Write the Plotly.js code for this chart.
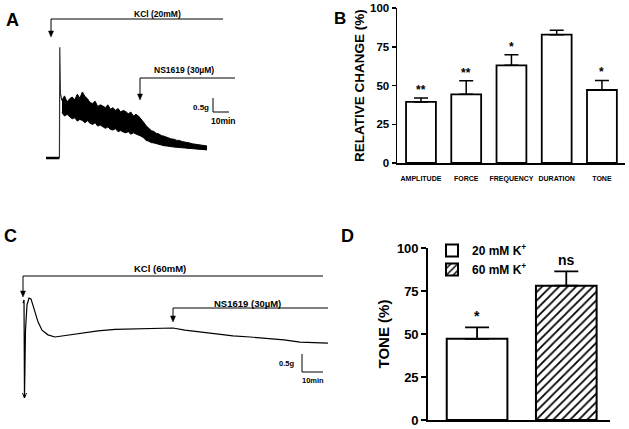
<!DOCTYPE html>
<html>
<head>
<meta charset="utf-8">
<script src="https://cdn.plot.ly/plotly-3.0.1.min.js"></script>
<style>html,body{margin:0;padding:0;background:#fff;}#chart{width:629px;height:429px;}</style>
</head>
<body>
<div id="chart"></div>
<script>
// ---------- DATA ----------
// Panel A: KCl 20 mM tension trace (time in min, tension in g)
const aBaseTime   = [0, 7.9];
const aBaseForce  = [0, 0];
const aSpikeTime  = [7.9, 8.1, 8.5, 9.4];
const aSpikeForce = [0, 3.96, 2.3, 2.05];
const aBandTime = [9.4, 10.9, 12.4, 13.9, 15.4, 16.9, 18.4, 19.9, 21.4, 22.9, 24.4, 25.9, 27.4, 28.9, 30.4, 31.9, 33.4, 34.9, 36.4, 37.9, 39.4, 40.9, 42.4, 43.9, 45.4, 46.9, 48.4, 49.9, 51.4, 52.9, 54.4, 55.9, 57.4, 58.9, 60.4, 61.9, 63.4, 64.9, 66.4, 67.9, 69.4, 70.9, 72.4, 73.9, 75.4, 76.9, 78.4, 79.9, 81.4, 82.9, 84.4, 85.9, 87.4, 88.9, 90.4, 91.9, 93.4, 94.7];
const aBandHigh = [2.07, 2.22, 2.0, 2.12, 2.18, 2.08, 2.28, 2.14, 2.36, 2.2, 2.12, 1.98, 1.95, 2.03, 1.84, 1.9, 1.86, 1.8, 1.9, 1.74, 1.8, 1.7, 1.77, 1.64, 1.7, 1.66, 1.58, 1.64, 1.5, 1.56, 1.5, 1.4, 1.28, 1.15, 1.08, 0.98, 0.95, 0.88, 0.86, 0.8, 0.78, 0.73, 0.71, 0.68, 0.67, 0.63, 0.63, 0.59, 0.58, 0.55, 0.54, 0.51, 0.5, 0.48, 0.47, 0.45, 0.44, 0.43];
const aBandLow  = [1.62, 1.5, 1.56, 1.46, 1.4, 1.44, 1.32, 1.38, 1.34, 1.26, 1.33, 1.24, 1.2, 1.26, 1.14, 1.18, 1.12, 1.06, 1.11, 1.02, 1.0, 1.05, 0.94, 0.98, 0.93, 0.9, 0.94, 0.85, 0.9, 0.86, 0.84, 0.78, 0.72, 0.63, 0.6, 0.55, 0.54, 0.51, 0.48, 0.47, 0.44, 0.43, 0.41, 0.41, 0.39, 0.38, 0.38, 0.36, 0.36, 0.35, 0.34, 0.34, 0.33, 0.32, 0.31, 0.31, 0.3, 0.29];

// Panel B: relative change (%)
const bCategories = ["AMPLITUDE", "FORCE", "FREQUENCY", "DURATION", "TONE"];
const bValues     = [39.4, 44.3, 63.0, 82.8, 47.1];
const bErrors     = [2.5, 8.8, 6.9, 2.8, 6.2];
const bSignif     = ["**", "**", "*", "", "*"];

// Panel C: KCl 60 mM tension trace (time in min, tension in g)
const cTime  = [0, 0.48, 0.71, 1.19, 1.9, 2.86, 3.81, 4.76, 5.71, 7.14, 9.05, 11.9, 15.2, 18.6, 22.4, 28.1, 35.7, 43.8, 51.9, 59.5, 67.6, 71.4, 77.1, 84.3, 92.4, 100.0, 108.1, 116.2, 124.3, 131.9, 145.2];
const cForce = [2.69, 2.78, 0.06, 1.94, 2.64, 2.83, 2.81, 2.64, 2.44, 2.17, 1.94, 1.81, 1.75, 1.78, 1.82, 1.86, 1.92, 1.96, 1.97, 2.0, 2.0, 2.0, 1.94, 1.89, 1.83, 1.78, 1.75, 1.71, 1.67, 1.61, 1.58];

// Panel D: tone (%)
const dSeries  = ["20 mM K<sup>+</sup>", "60 mM K<sup>+</sup>"];
const dValues  = [47.2, 78.1];
const dErrors  = [6.6, 8.3];
const dSignif  = ["*", "ns"];
const dTicks   = [0, 25, 50, 75, 100];

// ---------- LAYOUT HELPERS ----------
const W = 629, H = 429;
const P = x => x / W;           // pixel x -> paper
const Q = y => 1 - y / H;       // pixel y -> paper
const FONT = "Arial, 'Liberation Sans', sans-serif";
const shapes = [];
const annotations = [];
function line(x0, y0, x1, y1, w) {
  shapes.push({type: "line", xref: "paper", yref: "paper", x0: P(x0), y0: Q(y0), x1: P(x1), y1: Q(y1), line: {color: "black", width: w || 1}});
}
function arrowHead(x, y) {
  shapes.push({type: "path", xref: "paper", yref: "paper",
    path: `M ${P(x - 2.5)} ${Q(y - 6)} L ${P(x + 2.5)} ${Q(y - 6)} L ${P(x)} ${Q(y)} Z`,
    fillcolor: "black", line: {color: "black", width: 0.5}});
}
function label(text, x, y, size, xanchor) {
  annotations.push({text: text, xref: "paper", yref: "paper", x: P(x), y: Q(y), showarrow: false,
    xanchor: xanchor || "center", yanchor: "middle", font: {family: FONT, size: size, color: "black", weight: "bold"}});
}

// Panel A decorations
line(51, 19, 223, 19, 1); line(51, 19, 51, 32, 1); arrowHead(51, 37);
label("KCl (20mM)", 158, 14, 8.5);
line(140, 78, 235, 78, 1); line(140, 78, 140, 95, 1); arrowHead(140, 100);
label("NS1619 (30µM)", 184, 70, 8.5);
line(213, 98, 213, 112, 1); line(213, 112, 229, 112, 1);
label("0.5g", 211, 107, 8, "right");
label("10min", 224, 121, 8.5);
label("A", 12, 20, 18);

// Panel C decorations
line(23, 276, 323, 276, 1); line(23, 276, 23, 292, 1); arrowHead(23, 297);
label("KCl (60mM)", 160, 268, 9.5);
line(173, 308, 328, 308, 1); line(173, 308, 173, 317, 1); arrowHead(173, 322);
label("NS1619 (30µM)", 247, 303, 9.5);
line(302, 354, 302, 372, 1); line(302, 372, 323, 372, 1);
label("0.5g", 296, 363, 7.5, "right");
label("10min", 313, 380, 7.5);
line(24.5, 398, 22.5, 393, 1); line(24.5, 398, 26.5, 393, 1);
label("C", 10, 236, 18);

// Panels B, D labels
label("B", 340, 18, 17);
label("D", 347, 236, 18);

// significance marks
bCategories.forEach((c, i) => {
  if (bSignif[i]) annotations.push({text: bSignif[i], xref: "x2", yref: "y2", x: c, y: bValues[i] + bErrors[i],
    yanchor: "bottom", yshift: -1, showarrow: false, font: {family: FONT, size: 12, color: "black", weight: "bold"}});
});
dSeries.forEach((s, i) => {
  annotations.push({text: dSignif[i], xref: "x4", yref: "y4", x: i, y: dValues[i] + dErrors[i],
    yanchor: "bottom", yshift: 1, showarrow: false, font: {family: FONT, size: 14, color: "black", weight: "bold"}});
});

// ---------- TRACES ----------
const traces = [
  {x: aBaseTime, y: aBaseForce, xaxis: "x", yaxis: "y", type: "scatter", mode: "lines", line: {color: "black", width: 2.5}, showlegend: false, hoverinfo: "skip"},
  {x: aSpikeTime, y: aSpikeForce, xaxis: "x", yaxis: "y", type: "scatter", mode: "lines", line: {color: "#333", width: 1.2}, showlegend: false, hoverinfo: "skip"},
  {x: aBandTime, y: aBandLow, xaxis: "x", yaxis: "y", type: "scatter", mode: "lines", line: {color: "black", width: 1}, showlegend: false, hoverinfo: "skip"},
  {x: aBandTime, y: aBandHigh, xaxis: "x", yaxis: "y", type: "scatter", mode: "lines", fill: "tonexty", fillcolor: "black", line: {color: "black", width: 1}, showlegend: false, hoverinfo: "skip"},
  {x: bCategories, y: bValues, xaxis: "x2", yaxis: "y2", type: "bar", width: 0.66, showlegend: false,
    marker: {color: "white", line: {color: "black", width: 1.8}},
    error_y: {type: "data", array: bErrors, arrayminus: bErrors.map(() => 0), symmetric: false, color: "black", thickness: 1.5, width: 7}},
  {x: cTime, y: cForce, xaxis: "x3", yaxis: "y3", type: "scatter", mode: "lines", line: {color: "black", width: 1.2}, showlegend: false, hoverinfo: "skip"},
  {x: [0], y: [dValues[0]], name: dSeries[0], xaxis: "x4", yaxis: "y4", type: "bar", width: 0.68,
    marker: {color: "white", line: {color: "black", width: 2}},
    error_y: {type: "data", array: [dErrors[0]], arrayminus: [0], symmetric: false, color: "black", thickness: 1.8, width: 12}},
  {x: [1], y: [dValues[1]], name: dSeries[1], xaxis: "x4", yaxis: "y4", type: "bar", width: 0.68,
    marker: {color: "white", line: {color: "black", width: 2}, pattern: {shape: "/", fgcolor: "black", bgcolor: "white", size: 6, solidity: 0.3}},
    error_y: {type: "data", array: [dErrors[1]], arrayminus: [0], symmetric: false, color: "black", thickness: 1.8, width: 12}}
];

const hidden = {visible: false, showgrid: false, zeroline: false, fixedrange: true};
const layout = {
  width: W, height: H, margin: {l: 0, r: 0, t: 0, b: 0},
  paper_bgcolor: "white", plot_bgcolor: "white",
  font: {family: FONT, color: "black"},
  barmode: "overlay",
  xaxis:  Object.assign({}, hidden, {domain: [P(40), P(240)], range: [-3.53, 114.1], anchor: "y"}),
  yaxis:  Object.assign({}, hidden, {domain: [Q(165), Q(10)], range: [-0.25, 5.29], anchor: "x"}),
  xaxis2: {domain: [P(397), P(625)], range: [-0.53, 4.51], anchor: "y2", type: "category",
    showline: true, linecolor: "black", linewidth: 1.5, showgrid: false, zeroline: false,
    ticks: "outside", ticklen: 8, tickcolor: "rgba(0,0,0,0)",
    tickfont: {family: FONT, size: 7, color: "black", weight: "bold"}},
  yaxis2: {domain: [Q(163), Q(8)], range: [0, 100], anchor: "x2",
    showline: true, linecolor: "black", linewidth: 1.5, showgrid: false, zeroline: false,
    tickvals: dTicks, ticks: "outside", ticklen: 4, tickwidth: 1.5, tickcolor: "black",
    tickfont: {family: FONT, size: 11.5, color: "black", weight: "bold"},
    title: {text: "RELATIVE CHANGE (%)", standoff: 2, font: {family: FONT, size: 13.5, color: "black", weight: "bold"}}},
  xaxis3: Object.assign({}, hidden, {domain: [P(15), P(335)], range: [-3.81, 148.57], anchor: "y3"}),
  yaxis3: Object.assign({}, hidden, {domain: [Q(405), Q(260)], range: [-0.139, 3.889], anchor: "x3"}),
  xaxis4: {domain: [P(428), P(610)], range: [-0.55, 1.49], anchor: "y4",
    showline: true, linecolor: "black", linewidth: 1.8, showgrid: false, zeroline: false, showticklabels: false, ticks: ""},
  yaxis4: {domain: [Q(420), Q(248)], range: [0, 100], anchor: "x4",
    showline: true, linecolor: "black", linewidth: 1.8, showgrid: false, zeroline: false,
    tickvals: dTicks, ticks: "outside", ticklen: 5, tickwidth: 1.8, tickcolor: "black",
    tickfont: {family: FONT, size: 13, color: "black", weight: "bold"},
    title: {text: "TONE (%)", standoff: 4, font: {family: FONT, size: 15, color: "black", weight: "bold"}}},
  legend: {x: P(432), y: Q(236), xanchor: "left", yanchor: "top", bgcolor: "rgba(0,0,0,0)", traceorder: "normal",
    font: {family: FONT, size: 12, color: "black", weight: "bold"}, tracegroupgap: 0, itemwidth: 30},
  shapes: shapes,
  annotations: annotations
};

Plotly.newPlot("chart", traces, layout, {displayModeBar: false, staticPlot: true});
</script>
</body>
</html>
